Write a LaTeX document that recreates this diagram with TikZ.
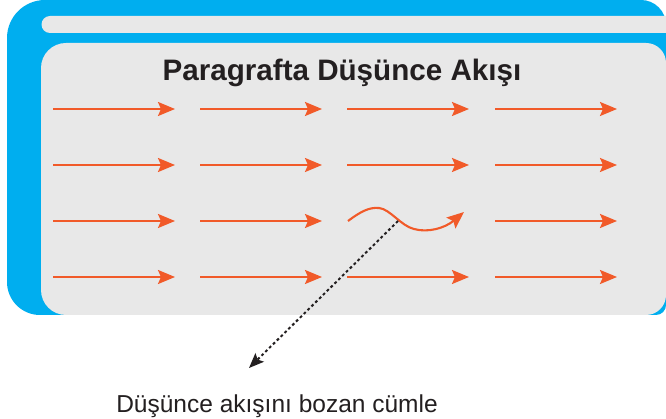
\documentclass[tikz,border=0pt]{standalone}
\usepackage{fontspec}
\setmainfont{Liberation Sans}
\usetikzlibrary{arrows.meta}
\definecolor{frameblue}{HTML}{00AEEF}
\definecolor{panelgrey}{HTML}{E8E8E8}
\definecolor{flow}{HTML}{F15A29}
\definecolor{inkdark}{HTML}{231F20}
\tikzset{
  flowarrow/.style={draw=flow, line width=2.1pt, -{Stealth[length=17pt,width=14pt,inset=3pt]}},
  pointer/.style={draw=inkdark, line width=2pt, dash pattern=on 2.8pt off 2.6pt,
     -{Stealth[length=15pt,width=12pt,inset=3pt]}},
  titletext/.style={inner sep=0pt, anchor=base, text=inkdark, font=\fontsize{29.6}{34}\selectfont\bfseries},
  labeltext/.style={inner sep=0pt, anchor=base, text=inkdark, font=\fontsize{24.5}{29}\selectfont}
}
\begin{document}
\begin{tikzpicture}[x=1pt,y=-1pt]
\useasboundingbox (0,0) rectangle (666,419);
\fill[white] (0,0) rectangle (666,419);
% blue frame
\fill[frameblue] (45,0) -- (641,0) arc (270:360:25) -- (666,305) arc (0:90:10)
   -- (40,315) arc (90:180:33) -- (7,38) arc (180:270:38) -- cycle;
% top bar
\fill[panelgrey] (50,16) -- (666,16) -- (666,33) -- (50,33) arc (90:270:8.5) -- cycle;
% main panel
\fill[panelgrey] (41,68) arc (180:270:25) -- (646,43) arc (270:360:20) -- (666,295)
   arc (0:90:20) -- (66,315) arc (90:180:25) -- cycle;
% title
\node[titletext] (title) at (342,81) {Paragrafta Düşünce Akışı};
% straight arrows
\foreach \r/\y in {1/109,2/165,3/221,4/277}{
  \foreach \c/\xs/\xe in {1/53/175,2/200/322,3/347/469,4/495/617}{
    \coordinate (s-\r-\c) at (\xs,\y);
    \coordinate (e-\r-\c) at (\xe,\y);
  }
}
\foreach \r in {1,2,4}{
  \foreach \c in {1,2,3,4}{
    \draw[flowarrow] (s-\r-\c) -- (e-\r-\c);
  }
}
\foreach \c in {1,2,4}{
  \draw[flowarrow] (s-3-\c) -- (e-3-\c);
}
% wavy arrow
\coordinate (w-s) at (348,221);
\coordinate (w-e) at (464,212);
\coordinate (cross) at (398,221);
\draw[flowarrow] (w-s) .. controls (360,212) and (369,207) .. (379,208)
   .. controls (390,209) and (401,226) .. (414,229)
   .. controls (428,233) and (445,228) .. (w-e);
% pointer and label
\node[labeltext] (lbl) at (277,412) {Düşünce akışını bozan cümle};
\coordinate (lbl-tip) at (249,368);
\draw[pointer] (cross) -- (lbl-tip);
\end{tikzpicture}
\end{document}
